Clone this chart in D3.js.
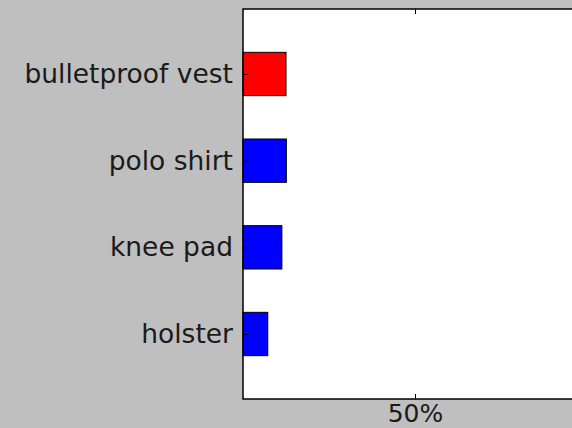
<!DOCTYPE html>
<html>
<head>
<meta charset="utf-8">
<script src="https://cdn.jsdelivr.net/npm/d3@7"></script>
<style>
html,body{margin:0;padding:0;background:#bfbfbf;}
svg{display:block;}
</style>
</head>
<body>
<svg id="chart" width="572" height="428"></svg>
<script>
const categories = ["bulletproof vest", "polo shirt", "knee pad", "holster"];
const values = [12.5, 12.6, 11.3, 7.2];
const highlight = ["bulletproof vest"];
const xTicks = [50];

const W = 572, H = 428;
const m = {left: 243, top: 9, right: -15, bottom: 29};
const svg = d3.select("#chart");
svg.append("rect").attr("width", W).attr("height", H).attr("fill", "#bfbfbf");

const x = d3.scaleLinear().domain([0, 100]).range([m.left, W - m.right]);
const y = d3.scaleLinear().domain([-0.75, categories.length - 0.25]).range([m.top, H - m.bottom]);
const barH = y(0.5) - y(0);

svg.append("rect").attr("x", x(0)).attr("y", m.top)
  .attr("width", x(100) - x(0)).attr("height", H - m.bottom - m.top)
  .attr("fill", "#ffffff");

svg.selectAll(".bar").data(categories).enter().append("rect")
  .attr("x", x(0))
  .attr("y", (d, i) => y(i) - barH / 2)
  .attr("width", (d, i) => x(values[i]) - x(0))
  .attr("height", barH)
  .attr("fill", d => highlight.includes(d) ? "#ff0000" : "#0000ff")
  .attr("stroke", "#000").attr("stroke-width", 1);

const font = "'DejaVu Sans', sans-serif";

// y axis (inside ticks, labels left)
const yAxis = d3.axisLeft(y).tickValues(d3.range(categories.length))
  .tickFormat(i => categories[i]).tickSize(-5).tickPadding(10);
const gy = svg.append("g").attr("transform", `translate(${x(0)},0)`).call(yAxis);
gy.select(".domain").remove();
gy.selectAll("text").attr("font-family", font).attr("font-size", 26.5).attr("fill", "#1a1a1a");
gy.selectAll("line").attr("stroke", "#000");

// x axis bottom
const xAxis = d3.axisBottom(x).tickValues(xTicks).tickFormat(d => d + "%").tickSize(-5).tickPadding(5);
const gx = svg.append("g").attr("transform", `translate(0,${H - m.bottom})`).call(xAxis);
gx.select(".domain").remove();
gx.selectAll("text").attr("font-family", font).attr("font-size", 25).attr("fill", "#1a1a1a");
gx.selectAll("line").attr("stroke", "#000");

// top ticks
const gt = svg.append("g").attr("transform", `translate(0,${m.top})`)
  .call(d3.axisTop(x).tickValues(xTicks).tickFormat("").tickSize(-5));
gt.select(".domain").remove();
gt.selectAll("line").attr("stroke", "#000");

// frame
svg.append("rect").attr("x", x(0)).attr("y", m.top)
  .attr("width", x(100) - x(0)).attr("height", H - m.bottom - m.top)
  .attr("fill", "none").attr("stroke", "#000").attr("stroke-width", 1.5);
</script>
</body>
</html>
